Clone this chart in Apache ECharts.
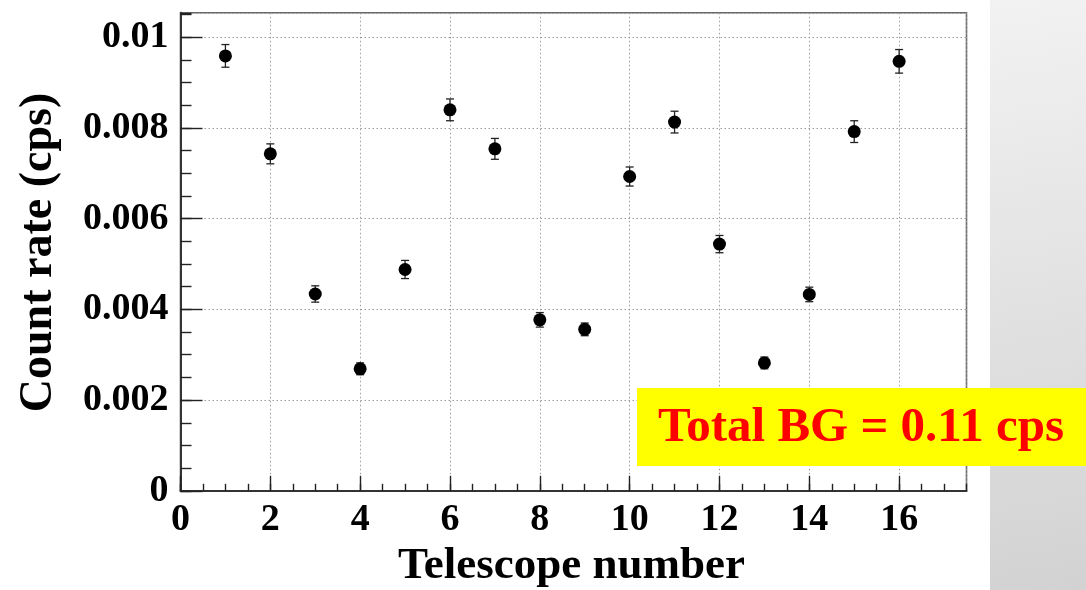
<!DOCTYPE html>
<html>
<head>
<meta charset="utf-8">
<script src="https://cdn.jsdelivr.net/npm/echarts@6/dist/echarts.min.js"></script>
<style>
  html, body { margin: 0; padding: 0; background: #ffffff; }
  #chart { width: 1086px; height: 590px; }
</style>
</head>
<body>
<div id="chart"></div>
<script>
// Background count rate per telescope module
const telescopes = [1, 2, 3, 4, 5, 6, 7, 8, 9, 10, 11, 12, 13, 14, 15, 16];
const countRate = [0.00959, 0.00743, 0.00434, 0.00269, 0.00488, 0.00840, 0.00754, 0.00377,
                   0.00356, 0.00693, 0.00813, 0.00544, 0.00282, 0.00433, 0.00792, 0.00947];
const rateError = [0.00025, 0.00022, 0.00018, 0.00013, 0.00020, 0.00024, 0.00023, 0.00016,
                   0.00014, 0.00021, 0.00024, 0.00019, 0.00013, 0.00016, 0.00024, 0.00026];
const xTickLabels = ['0', '2', '4', '6', '8', '10', '12', '14', '16'];
const yTickLabels = ['0', '0.002', '0.004', '0.006', '0.008', '0.01'];
const xTitle = 'Telescope number';
const yTitle = 'Count rate (cps)';
const noteText = 'Total BG = 0.11 cps';

const FONT = 'Liberation Serif';
const X_MAX = 17.5;
const Y_MAX = 0.01054;

function pickLabel(list, v) {
  for (const s of list) {
    if (Math.abs(parseFloat(s) - v) < 1e-9) return s;
  }
  return '';
}

const points = telescopes.map((t, i) => [t, countRate[i]]);
const errBars = telescopes.map((t, i) => [t, countRate[i] - rateError[i], countRate[i] + rateError[i]]);

const dotted = { color: '#9a9a9a', width: 1, type: [1.5, 2.5] };

const chart = echarts.init(document.getElementById('chart'), null, { renderer: 'canvas' });
chart.setOption({
  animation: false,
  backgroundColor: '#ffffff',
  grid: {
    left: 180.5, right: 119.5, top: 12.8, bottom: 99.2,
    show: true, borderColor: '#6a6a6a', borderWidth: 1.6, backgroundColor: 'transparent'
  },
  xAxis: [
    {
      type: 'value', min: 0, max: X_MAX, interval: 2, position: 'bottom',
      axisLine: { show: true, onZero: false, lineStyle: { color: '#333', width: 2 } },
      axisTick: { show: true, inside: true, length: 15, lineStyle: { color: '#222', width: 1.4 } },
      axisLabel: {
        show: true, margin: 10, color: '#000', fontFamily: FONT, fontWeight: 'bold', fontSize: 38,
        showMaxLabel: false,
        formatter: v => pickLabel(xTickLabels, v)
      },
      splitLine: { show: true, lineStyle: dotted }
    },
    {
      type: 'value', min: 0, max: X_MAX, interval: 0.5, position: 'bottom',
      axisLine: { show: false },
      axisTick: { show: true, inside: true, length: 7, lineStyle: { color: '#222', width: 1.4 } },
      axisLabel: { show: false },
      splitLine: { show: false }
    }
  ],
  yAxis: [
    {
      type: 'value', min: 0, max: Y_MAX, interval: 0.002, position: 'left',
      axisLine: { show: true, onZero: false, lineStyle: { color: '#333', width: 2 } },
      axisTick: { show: true, inside: true, length: 22, lineStyle: { color: '#222', width: 1.4 } },
      axisLabel: {
        show: true, margin: 12, color: '#000', fontFamily: FONT, fontWeight: 'bold', fontSize: 38,
        padding: [3, 0, 0, 0],
        showMaxLabel: false,
        formatter: v => pickLabel(yTickLabels, v)
      },
      splitLine: { show: true, lineStyle: dotted }
    },
    {
      type: 'value', min: 0, max: Y_MAX, interval: 0.0005, position: 'left',
      axisLine: { show: false },
      axisTick: { show: true, inside: true, length: 11, lineStyle: { color: '#222', width: 1.4 } },
      axisLabel: { show: false },
      splitLine: { show: false }
    }
  ],
  graphic: [
    {
      type: 'rect', z: -10, silent: true,
      shape: { x: 990, y: 0, width: 96, height: 590 },
      style: {
        fill: new echarts.graphic.LinearGradient(0, 0, 1, 1, [
          { offset: 0, color: '#f2f2f2' },
          { offset: 1, color: '#d2d2d2' }
        ])
      }
    },
    {
      type: 'text', z: 10, silent: true,
      x: 39, y: 252.5, rotation: Math.PI / 2,
      style: {
        text: yTitle, fill: '#000', font: 'bold 46px "' + FONT + '"',
        textAlign: 'center', textVerticalAlign: 'middle'
      }
    },
    {
      type: 'text', z: 10, silent: true,
      x: 571.5, y: 566,
      style: {
        text: xTitle, fill: '#000', font: 'bold 45px "' + FONT + '"',
        textAlign: 'center', textVerticalAlign: 'middle'
      }
    },
    {
      type: 'rect', z: 100, silent: true,
      shape: { x: 637, y: 388, width: 449, height: 78 },
      style: { fill: '#ffff00' }
    },
    {
      type: 'text', z: 101, silent: true,
      x: 861, y: 428,
      style: {
        text: noteText, fill: '#ff0000', font: 'bold 49px "' + FONT + '"',
        textAlign: 'center', textVerticalAlign: 'middle'
      }
    }
  ],
  series: [
    {
      type: 'custom',
      xAxisIndex: 0, yAxisIndex: 0,
      data: errBars,
      z: 3,
      renderItem: function (params, api) {
        const x = api.value(0);
        const lo = api.coord([x, api.value(1)]);
        const hi = api.coord([x, api.value(2)]);
        const cap = 4;
        const st = { stroke: '#222', lineWidth: 1.3 };
        return {
          type: 'group',
          children: [
            { type: 'line', shape: { x1: lo[0], y1: lo[1], x2: hi[0], y2: hi[1] }, style: st },
            { type: 'line', shape: { x1: lo[0] - cap, y1: lo[1], x2: lo[0] + cap, y2: lo[1] }, style: st },
            { type: 'line', shape: { x1: hi[0] - cap, y1: hi[1], x2: hi[0] + cap, y2: hi[1] }, style: st }
          ]
        };
      }
    },
    {
      type: 'scatter',
      xAxisIndex: 0, yAxisIndex: 0,
      data: points,
      symbol: 'circle',
      symbolSize: 13,
      itemStyle: { color: '#000', opacity: 1 },
      z: 4
    }
  ]
});
</script>
</body>
</html>
